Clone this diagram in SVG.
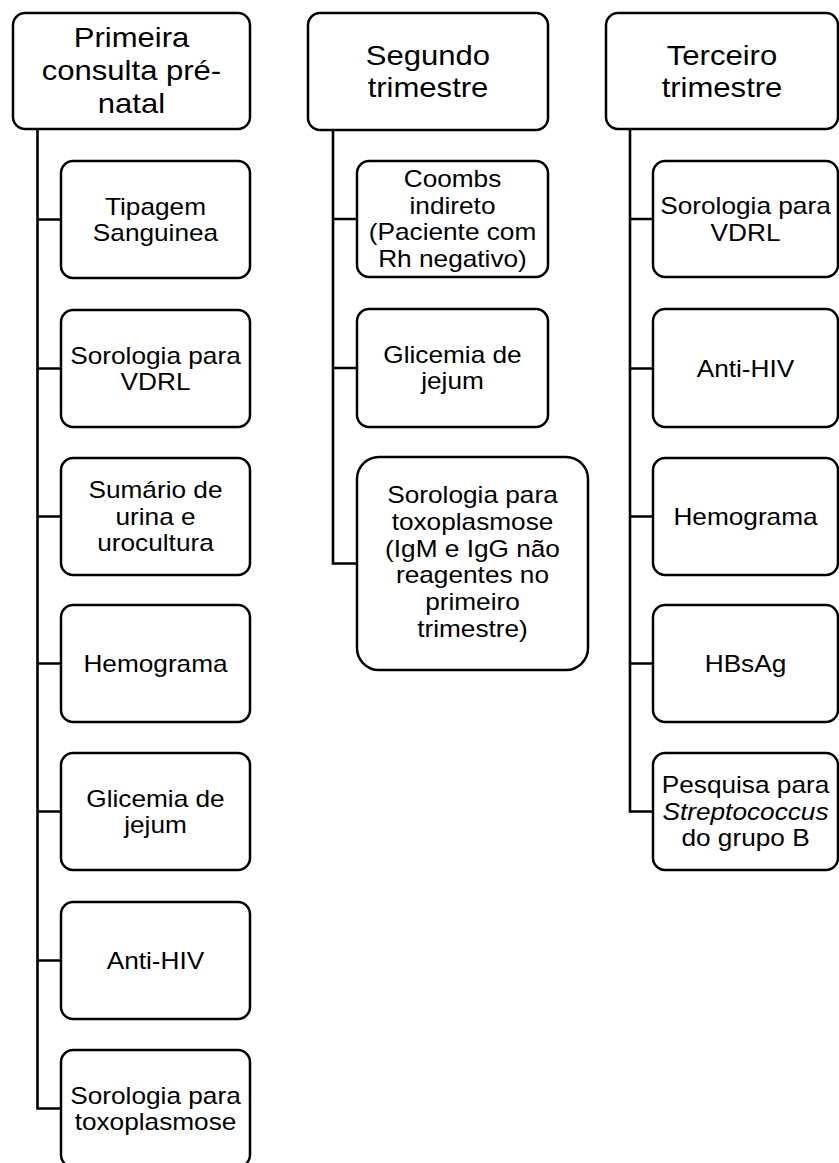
<svg xmlns="http://www.w3.org/2000/svg" width="839" height="1163" viewBox="0 0 839 1163">
<style>
.box{fill:#fff;stroke:#000;stroke-width:2.5}
.hd{font-family:"Liberation Sans",Arial,sans-serif;font-size:27px;text-anchor:middle;fill:#000}
.tx{font-family:"Liberation Sans",Arial,sans-serif;font-size:23px;text-anchor:middle;fill:#000}
.con{fill:none;stroke:#000;stroke-width:2.6}
</style>
<rect width="839" height="1163" fill="#fff"/>
<g id="connectors">
<path class="con" d="M37.5,129 V1108.5 H61 M37.5,219.5 H61 M37.5,368.5 H61 M37.5,516.5 H61 M37.5,663.5 H61 M37.5,811.5 H61 M37.5,960.5 H61"/>
<path class="con" d="M333,130 V563.5 H357 M333,219 H357 M333,368 H357"/>
<path class="con" d="M630,129 V811.5 H653 M630,219 H653 M630,368.5 H653 M630,516.5 H653 M630,663.5 H653"/>
</g>
<g id="h1"><rect class="box" x="13" y="13" width="237" height="116" rx="12"/>
<text class="hd" transform="translate(131.5 0) scale(1.15 1)"><tspan x="0" y="47">Primeira</tspan><tspan x="0" y="80">consulta pré-</tspan><tspan x="0" y="113">natal</tspan></text></g>
<g id="h2"><rect class="box" x="308" y="13" width="240" height="117" rx="12"/>
<text class="hd" transform="translate(428 0) scale(1.15 1)"><tspan x="0" y="65">Segundo</tspan><tspan x="0" y="97">trimestre</tspan></text></g>
<g id="h3"><rect class="box" x="606" y="13" width="232" height="116" rx="12"/>
<text class="hd" transform="translate(722 0) scale(1.15 1)"><tspan x="0" y="65">Terceiro</tspan><tspan x="0" y="97">trimestre</tspan></text></g>

<g id="c1n1"><rect class="box" x="61" y="161" width="189" height="117" rx="12"/>
<text class="tx" transform="translate(155.5 0) scale(1.14 1)"><tspan x="0" y="215">Tipagem</tspan><tspan x="0" y="241">Sanguinea</tspan></text></g>
<g id="c1n2"><rect class="box" x="61" y="310" width="189" height="117" rx="12"/>
<text class="tx" transform="translate(155.5 0) scale(1.14 1)"><tspan x="0" y="364">Sorologia para</tspan><tspan x="0" y="390">VDRL</tspan></text></g>
<g id="c1n3"><rect class="box" x="61" y="458" width="189" height="117" rx="12"/>
<text class="tx" transform="translate(155.5 0) scale(1.14 1)"><tspan x="0" y="498.5">Sumário de</tspan><tspan x="0" y="525">urina e</tspan><tspan x="0" y="551.5">urocultura</tspan></text></g>
<g id="c1n4"><rect class="box" x="61" y="605" width="189" height="117" rx="12"/>
<text class="tx" transform="translate(155.5 0) scale(1.14 1)"><tspan x="0" y="672">Hemograma</tspan></text></g>
<g id="c1n5"><rect class="box" x="61" y="753" width="189" height="117" rx="12"/>
<text class="tx" transform="translate(155.5 0) scale(1.14 1)"><tspan x="0" y="807">Glicemia de</tspan><tspan x="0" y="833.5">jejum</tspan></text></g>
<g id="c1n6"><rect class="box" x="61" y="902" width="189" height="117" rx="12"/>
<text class="tx" transform="translate(155.5 0) scale(1.14 1)"><tspan x="0" y="969">Anti-HIV</tspan></text></g>
<g id="c1n7"><rect class="box" x="61" y="1050" width="189" height="117" rx="12"/>
<text class="tx" transform="translate(155.5 0) scale(1.14 1)"><tspan x="0" y="1104">Sorologia para</tspan><tspan x="0" y="1130.5">toxoplasmose</tspan></text></g>

<g id="c2n1"><rect class="box" x="357" y="161" width="191" height="116" rx="12"/>
<text class="tx" transform="translate(452.5 0) scale(1.14 1)"><tspan x="0" y="187.5">Coombs</tspan><tspan x="0" y="214">indireto</tspan><tspan x="0" y="240.5">(Paciente com</tspan><tspan x="0" y="267">Rh negativo)</tspan></text></g>
<g id="c2n2"><rect class="box" x="357" y="309" width="191" height="118" rx="12"/>
<text class="tx" transform="translate(452.5 0) scale(1.14 1)"><tspan x="0" y="363">Glicemia de</tspan><tspan x="0" y="389.5">jejum</tspan></text></g>
<g id="c2n3"><rect class="box" x="357" y="457" width="231" height="213" rx="22"/>
<text class="tx" transform="translate(472.5 0) scale(1.14 1)"><tspan x="0" y="503">Sorologia para</tspan><tspan x="0" y="530">toxoplasmose</tspan><tspan x="0" y="557">(IgM e IgG não</tspan><tspan x="0" y="583.5">reagentes no</tspan><tspan x="0" y="610">primeiro</tspan><tspan x="0" y="637">trimestre)</tspan></text></g>

<g id="c3n1"><rect class="box" x="653" y="161" width="185" height="116" rx="12"/>
<text class="tx" transform="translate(745.5 0) scale(1.14 1)"><tspan x="0" y="214.5">Sorologia para</tspan><tspan x="0" y="241">VDRL</tspan></text></g>
<g id="c3n2"><rect class="box" x="653" y="309" width="185" height="118" rx="12"/>
<text class="tx" transform="translate(745.5 0) scale(1.14 1)"><tspan x="0" y="377">Anti-HIV</tspan></text></g>
<g id="c3n3"><rect class="box" x="653" y="458" width="185" height="117" rx="12"/>
<text class="tx" transform="translate(745.5 0) scale(1.14 1)"><tspan x="0" y="525">Hemograma</tspan></text></g>
<g id="c3n4"><rect class="box" x="653" y="605" width="185" height="117" rx="12"/>
<text class="tx" transform="translate(745.5 0) scale(1.14 1)"><tspan x="0" y="672">HBsAg</tspan></text></g>
<g id="c3n5"><rect class="box" x="653" y="753" width="185" height="117" rx="12"/>
<text class="tx" transform="translate(745.5 0) scale(1.14 1)"><tspan x="0" y="793.5">Pesquisa para</tspan><tspan x="0" y="820" font-style="italic">Streptococcus</tspan><tspan x="0" y="846.5">do grupo B</tspan></text></g>
</svg>
